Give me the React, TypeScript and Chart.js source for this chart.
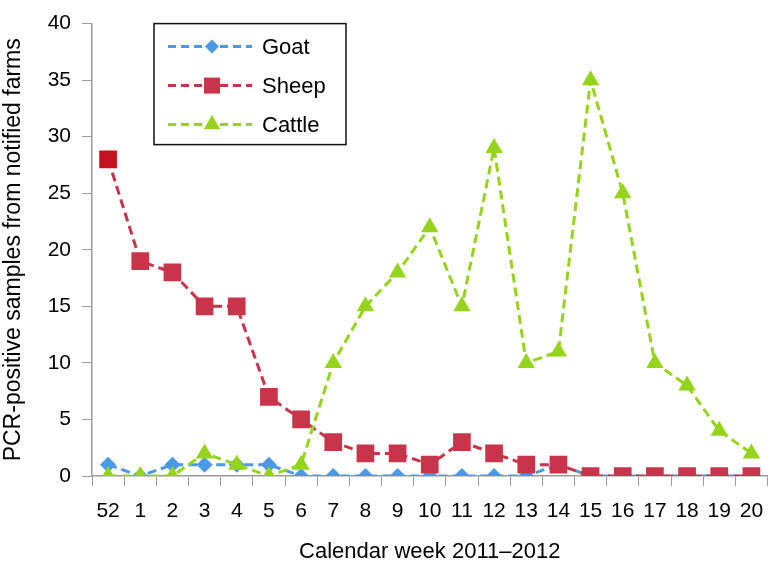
import React, { useEffect, useRef } from 'react';
import { Chart, registerables } from 'chart.js';

Chart.register(...registerables);

const weeks = ['52', '1', '2', '3', '4', '5', '6', '7', '8', '9', '10', '11', '12', '13', '14', '15', '16', '17', '18', '19', '20'];
const goat = [1, 0, 1, 1, 1, 1, 0, 0, 0, 0, 0, 0, 0, 0, 1, 0, 0, 0, 0, 0, 0];
const sheep = [28, 19, 18, 15, 15, 7, 5, 3, 2, 2, 1, 3, 2, 1, 1, 0, 0, 0, 0, 0, 0];
const cattle = [0, 0, 0, 2, 1, 0, 1, 10, 15, 18, 22, 15, 29, 10, 11, 35, 25, 10, 8, 4, 2];
const seriesNames = ['Goat', 'Sheep', 'Cattle'];
const yTitle = 'PCR-positive samples from notified farms';
const xTitle = 'Calendar week 2011–2012';

const GOAT = '#4b98e6';
const SHEEP = '#c8354a';
const CATTLE = '#95d41a';
const FONT = "'Liberation Sans', Arial, Helvetica, sans-serif";
const AXIS = '#9a9a9a';

function drawMarker(ctx: CanvasRenderingContext2D, style: string, x: number, y: number, color: string) {
  ctx.save();
  ctx.fillStyle = color;
  ctx.beginPath();
  if (style === 'diamond') {
    const r = 7;
    ctx.moveTo(x - r, y);
    ctx.lineTo(x, y - r);
    ctx.lineTo(x + r, y);
    ctx.lineTo(x, y + r);
    ctx.closePath();
  } else if (style === 'square') {
    const s = 8;
    ctx.rect(x - s, y - s, 2 * s, 2 * s);
  } else {
    const r = 9.5;
    ctx.moveTo(x, y - r);
    ctx.lineTo(x + Math.sin((2 * Math.PI) / 3) * r, y + r / 2);
    ctx.lineTo(x - Math.sin((2 * Math.PI) / 3) * r, y + r / 2);
    ctx.closePath();
  }
  ctx.fill();
  ctx.restore();
}

const boxLegend = {
  id: 'boxLegend',
  afterDraw(chart: any) {
    const { ctx, chartArea } = chart;
    const left = chartArea.left + 62;
    const top = chartArea.top;
    const w = 192;
    const h = 121;
    ctx.save();
    ctx.fillStyle = '#ffffff';
    ctx.fillRect(left, top, w, h);
    ctx.strokeStyle = '#111';
    ctx.lineWidth = 1.5;
    ctx.strokeRect(left, top, w, h);
    const items = [
      { name: seriesNames[0], color: GOAT, style: 'diamond' },
      { name: seriesNames[1], color: SHEEP, style: 'square' },
      { name: seriesNames[2], color: CATTLE, style: 'triangle' },
    ];
    items.forEach((it, i) => {
      const y = top + 23 + i * 39;
      ctx.save();
      ctx.strokeStyle = it.color;
      ctx.lineWidth = 3;
      ctx.setLineDash([8, 5]);
      ctx.beginPath();
      ctx.moveTo(left + 14, y);
      ctx.lineTo(left + 98, y);
      ctx.stroke();
      ctx.restore();
      drawMarker(ctx, it.style, left + 58, y, it.color);
      ctx.fillStyle = '#000';
      ctx.font = `22px ${FONT}`;
      ctx.textAlign = 'left';
      ctx.textBaseline = 'middle';
      ctx.fillText(it.name, left + 108, y + 1);
    });
    ctx.restore();
  },
};

export default function App() {
  const canvasRef = useRef<HTMLCanvasElement | null>(null);

  useEffect(() => {
    const canvas = canvasRef.current;
    if (!canvas) return;
    const common = {
      borderWidth: 3,
      borderDash: [9, 5],
      tension: 0,
      fill: false,
      pointBorderWidth: 0,
    };
    const chart = new Chart(canvas, {
      type: 'line',
      data: {
        labels: weeks,
        datasets: [
          {
            ...common,
            label: seriesNames[0],
            data: goat,
            borderColor: GOAT,
            backgroundColor: GOAT,
            pointBackgroundColor: GOAT,
            pointBorderColor: GOAT,
            pointStyle: 'rectRot',
            pointRadius: 8,
            order: 2,
          },
          {
            ...common,
            label: seriesNames[1],
            data: sheep,
            borderColor: SHEEP,
            backgroundColor: SHEEP,
            pointBackgroundColor: (c: any) => (c.dataIndex === 0 ? '#c4121f' : SHEEP),
            pointBorderColor: (c: any) => (c.dataIndex === 0 ? '#c4121f' : SHEEP),
            pointStyle: 'rect',
            pointRadius: 12.5,
            order: 1,
          },
          {
            ...common,
            label: seriesNames[2],
            data: cattle,
            borderColor: CATTLE,
            backgroundColor: CATTLE,
            pointBackgroundColor: CATTLE,
            pointBorderColor: CATTLE,
            pointStyle: 'triangle',
            pointRadius: 10,
            order: 0,
          },
        ],
      },
      options: {
        responsive: false,
        animation: false,
        maintainAspectRatio: false,
        layout: { padding: { top: 15, right: 2, left: 0, bottom: 0 } },
        plugins: {
          legend: { display: false },
          tooltip: { enabled: false },
        },
        scales: {
          x: {
            type: 'category',
            offset: true,
            grid: {
              display: true,
              drawOnChartArea: false,
              offset: true,
              tickLength: 10,
              color: AXIS,
              lineWidth: 1,
            },
            border: { display: true, color: AXIS, width: 1.5 },
            ticks: {
              color: '#000',
              font: { family: FONT, size: 21, lineHeight: 2.05 },
              padding: 4,
              maxRotation: 0,
              autoSkip: false,
            },
            title: {
              display: true,
              text: xTitle,
              color: '#000',
              font: { family: FONT, size: 22 },
              padding: { top: 0, bottom: 1 },
            },
            afterFit: (s: any) => {
              s.height = 90;
            },
          },
          y: {
            min: 0,
            max: 40,
            ticks: {
              stepSize: 5,
              color: '#000',
              font: { family: FONT, size: 21 },
              padding: 11,
            },
            grid: {
              display: true,
              drawOnChartArea: false,
              tickLength: 10,
              color: AXIS,
              lineWidth: 1,
            },
            border: { display: true, color: AXIS, width: 1.5 },
            title: {
              display: true,
              text: yTitle,
              color: '#000',
              font: { family: FONT, size: 23 },
              padding: { top: 0, bottom: 0 },
            },
            afterFit: (s: any) => {
              s.width = 92;
            },
          },
        },
      },
      plugins: [boxLegend],
    } as any);
    return () => chart.destroy();
  }, []);

  return (
    <div style={{ position: 'fixed', left: 0, top: 0, width: 780, height: 566, background: '#fff' }}>
      <canvas ref={canvasRef} width={780} height={566} style={{ display: 'block' }} />
    </div>
  );
}
